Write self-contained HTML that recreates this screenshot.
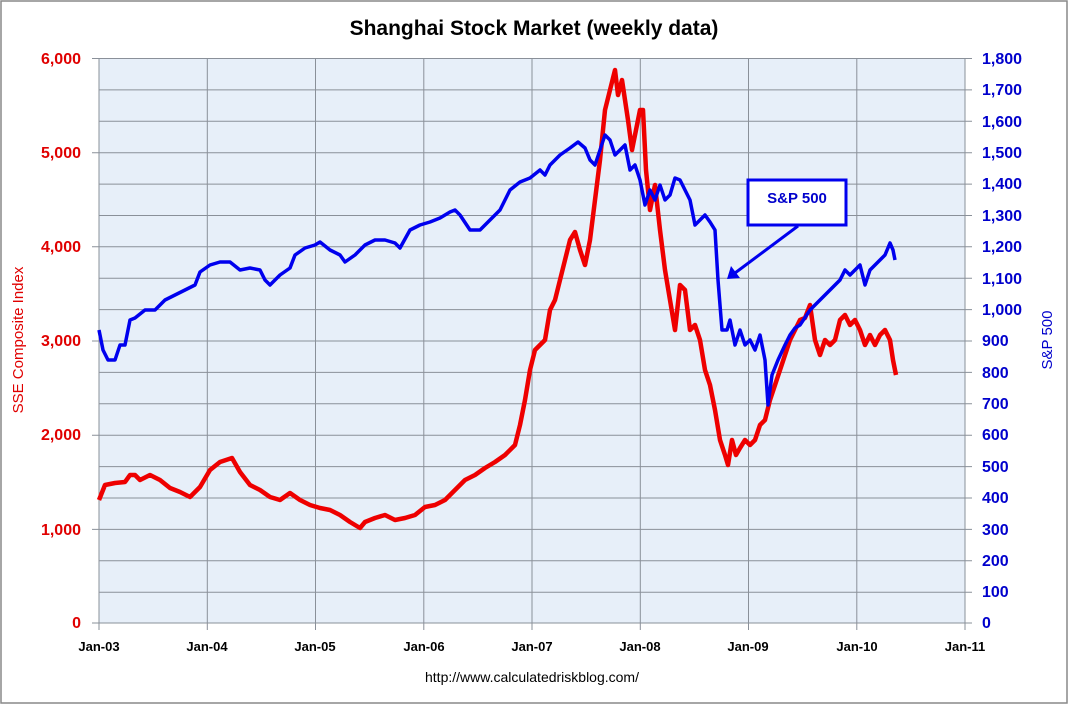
<!DOCTYPE html>
<html><head><meta charset="utf-8"><style>
body{margin:0;background:#fff;}
svg{display:block;font-family:"Liberation Sans","DejaVu Sans",sans-serif;}
</style></head><body>
<svg width="1069" height="706" viewBox="0 0 1069 706">
<rect x="1" y="1" width="1066" height="702" fill="#fff" stroke="#888" stroke-width="1.5"/>
<text x="534" y="35" text-anchor="middle" font-size="21" font-weight="bold" fill="#000">Shanghai Stock Market (weekly data)</text>
<rect x="99" y="58" width="866" height="565" fill="#e7eff9"/>
<g stroke="#8a9099" stroke-width="1" fill="none">
<path d="M99 58.5H965M99 89.9H965M99 121.3H965M99 152.7H965M99 184.1H965M99 215.5H965M99 246.8H965M99 278.2H965M99 309.6H965M99 341H965M99 372.4H965M99 403.8H965M99 435.2H965M99 466.6H965M99 498H965M99 529.4H965M99 560.8H965M99 592.2H965"/>
<path d="M207.3 58V623M315.5 58V623M423.8 58V623M532 58V623M640.3 58V623M748.5 58V623M856.8 58V623"/>
<path d="M99 58V623H965V58"/>
<path d="M92 58.5H99M92 152.7H99M92 246.8H99M92 341H99M92 435.2H99M92 529.4H99M92 623H99"/>
<path d="M99 623V630M207.3 623V630M315.5 623V630M423.8 623V630M532 623V630M640.3 623V630M748.5 623V630M856.8 623V630M965 623V630"/>
<path d="M965 58.5H972M965 89.9H972M965 121.3H972M965 152.7H972M965 184.1H972M965 215.5H972M965 246.8H972M965 278.2H972M965 309.6H972M965 341H972M965 372.4H972M965 403.8H972M965 435.2H972M965 466.6H972M965 498H972M965 529.4H972M965 560.8H972M965 592.2H972M965 623H972"/>
</g>
<g fill="#e00000" font-size="16" font-weight="bold" text-anchor="end">
<text x="81" y="64">6,000</text><text x="81" y="158">5,000</text><text x="81" y="252">4,000</text><text x="81" y="346">3,000</text><text x="81" y="440">2,000</text><text x="81" y="535">1,000</text><text x="81" y="628">0</text>
</g>
<g fill="#0000cc" font-size="16" font-weight="bold" text-anchor="start">
<text x="982" y="64">1,800</text><text x="982" y="95">1,700</text><text x="982" y="127">1,600</text><text x="982" y="158">1,500</text><text x="982" y="189">1,400</text><text x="982" y="221">1,300</text><text x="982" y="252">1,200</text><text x="982" y="284">1,100</text><text x="982" y="315">1,000</text><text x="982" y="346">900</text><text x="982" y="378">800</text><text x="982" y="409">700</text><text x="982" y="440">600</text><text x="982" y="472">500</text><text x="982" y="503">400</text><text x="982" y="535">300</text><text x="982" y="566">200</text><text x="982" y="597">100</text><text x="982" y="628">0</text>
</g>
<g font-size="13" font-weight="bold" fill="#000" text-anchor="middle">
<text x="99" y="651">Jan-03</text><text x="207" y="651">Jan-04</text><text x="315" y="651">Jan-05</text><text x="424" y="651">Jan-06</text><text x="532" y="651">Jan-07</text><text x="640" y="651">Jan-08</text><text x="748" y="651">Jan-09</text><text x="857" y="651">Jan-10</text><text x="965" y="651">Jan-11</text>
</g>
<text transform="translate(23,340) rotate(-90)" text-anchor="middle" font-size="15" fill="#e00000">SSE Composite Index</text>
<text transform="translate(1052,340) rotate(-90)" text-anchor="middle" font-size="15" fill="#0000cc">S&amp;P 500</text>
<text x="532" y="682" text-anchor="middle" font-size="14" fill="#000">http://www.calculatedriskblog.com/</text>
<polyline fill="none" stroke="#ee0000" stroke-width="4.5" stroke-linejoin="round" points="99,500 105,485 115,483 125,482 130,475 135,475 140,480 150,475 160,480 170,488 180,492 190,497 200,487 210,470 220,462 232,458 240,472 250,485 260,490 270,497 280,500 290,493 300,500 310,505 320,508 330,510 340,515 350,522 360,528 365,522 375,518 385,515 395,520 405,518 415,515 425,507 435,505 445,500 455,490 465,480 475,475 485,468 495,462 505,455 515,445 520,425 525,400 530,370 535,350 540,345 545,340 550,310 555,300 560,280 565,260 570,240 575,232 580,250 585,265 590,240 595,200 600,160 605,110 610,90 615,70 618,95 622,80 628,120 632,150 636,130 640,110 643,110 646,170 650,210 655,185 660,230 665,270 670,300 675,330 680,285 685,290 690,330 695,325 700,340 705,370 710,385 715,410 720,440 725,455 728,465 732,440 736,455 740,448 745,440 750,445 755,440 760,425 765,420 770,400 775,385 780,370 790,340 800,320 805,318 810,305 815,340 820,355 825,340 830,345 835,340 840,320 845,315 850,325 855,320 860,330 865,345 870,335 875,345 880,335 885,330 890,340 893,360 896,375"/>
<polyline fill="none" stroke="#0000ee" stroke-width="3.5" stroke-linejoin="round" points="99,330 103,350 108,360 115,360 120,345 125,345 130,320 135,318 145,310 155,310 165,300 175,295 185,290 195,285 200,272 210,265 220,262 230,262 240,270 250,268 260,270 265,280 270,285 280,275 290,268 295,255 305,248 315,245 320,242 330,250 340,255 345,262 355,255 365,245 375,240 385,240 395,243 400,248 410,230 420,225 430,222 440,218 450,212 455,210 460,215 470,230 480,230 490,220 500,210 510,190 520,182 530,178 540,170 545,175 550,165 560,155 570,148 578,142 585,148 590,160 595,165 600,150 605,135 610,140 615,155 620,150 625,145 630,170 635,165 640,180 645,205 650,190 655,200 660,185 665,200 670,195 675,178 680,180 685,190 690,200 695,225 700,220 705,215 710,222 715,230 718,280 722,330 727,330 730,320 735,345 740,330 745,345 750,340 755,350 760,335 765,360 768,405 772,375 778,360 785,345 790,335 795,328 800,325 810,310 820,300 830,290 840,280 845,270 850,275 855,270 860,265 865,285 870,270 880,260 885,255 890,243 893,250 895,260"/>
<rect x="748" y="180" width="98" height="45" fill="#fff" stroke="#0000ee" stroke-width="3"/>
<text x="797" y="203" text-anchor="middle" font-size="15" font-weight="bold" fill="#0000cc">S&amp;P 500</text>
<line x1="798" y1="226" x2="735" y2="273" stroke="#0000ee" stroke-width="3"/>
<polygon points="727,279 731,266 740,278" fill="#0000ee"/>
</svg>
</body></html>
